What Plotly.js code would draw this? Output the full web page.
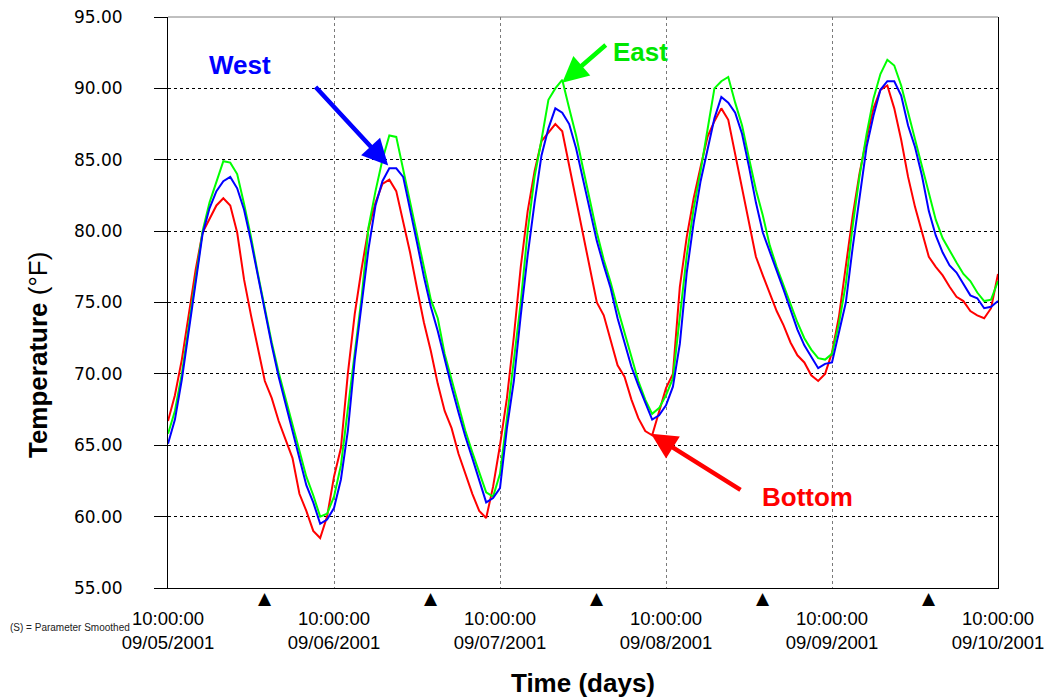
<!DOCTYPE html>
<html>
<head>
<meta charset="utf-8">
<script src="https://cdn.plot.ly/plotly-3.0.1.min.js"></script>
<style>
  html, body { margin: 0; padding: 0; background: #ffffff; }
  #chart { width: 1051px; height: 698px; }
</style>
</head>
<body>
<div id="chart"></div>
<script>
// ---- Data (hourly readings, starting 09/05/2001 10:00:00) ----
const dayTicks = ['2001-09-05 10:00:00', '2001-09-06 10:00:00', '2001-09-07 10:00:00',
                  '2001-09-08 10:00:00', '2001-09-09 10:00:00', '2001-09-10 10:00:00'];
const midnightMarks = ['2001-09-06 00:00:00', '2001-09-07 00:00:00', '2001-09-08 00:00:00',
                       '2001-09-09 00:00:00', '2001-09-10 00:00:00'];

const bottomTemp = [
  66.7, 68.5, 71.0, 74.0, 77.3, 79.9, 80.8, 81.8, 82.3, 81.8, 79.9, 76.6, 74.1, 71.7, 69.5, 68.3, 66.7, 65.4, 64.1, 61.6, 60.4, 59.0, 58.5, 60.0, 62.8,
  64.8, 70.0, 74.2, 77.4, 80.2, 82.0, 83.3, 83.6, 82.8, 80.7, 78.5, 76.0, 73.6, 71.6, 69.3, 67.4, 66.2, 64.4, 63.0, 61.6, 60.4, 59.9, 62.1, 65.0,
  68.3, 72.6, 77.5, 81.4, 84.2, 86.3, 86.9, 87.5, 87.0, 84.6, 82.0, 79.6, 77.3, 75.0, 74.1, 72.4, 70.6, 69.8, 68.2, 66.9, 66.0, 65.7, 67.4, 69.0,
  70.0, 76.1, 79.6, 82.3, 84.5, 86.6, 87.7, 88.6, 87.8, 85.4, 82.9, 80.6, 78.2, 76.9, 75.7, 74.4, 73.4, 72.2, 71.3, 70.8, 69.9, 69.5, 70.0, 71.5,
  74.0, 77.5, 81.1, 84.1, 86.5, 88.6, 89.9, 90.2, 88.6, 86.4, 83.8, 81.7, 79.9, 78.2, 77.5, 76.9, 76.1, 75.4, 75.1, 74.4, 74.1, 73.9, 74.6, 77.0
];
const eastTemp = [
  65.8, 67.4, 70.0, 73.3, 76.8, 80.0, 82.0, 83.5, 84.9, 84.8, 84.0, 81.9, 79.6, 77.0, 74.5, 72.2, 70.1, 68.3, 66.5, 64.6, 62.8, 61.5, 60.0, 60.2, 61.4,
  63.6, 67.6, 71.8, 75.4, 80.3, 82.8, 85.0, 86.7, 86.6, 84.3, 82.0, 79.6, 77.3, 75.2, 73.9, 71.4, 69.6, 67.8, 66.0, 64.5, 63.1, 61.7, 61.4, 63.0,
  66.9, 70.8, 75.0, 80.0, 83.8, 86.4, 89.2, 90.0, 90.6, 88.6, 86.7, 84.4, 82.1, 79.9, 78.0, 76.4, 74.6, 72.9, 71.3, 69.5, 68.2, 67.2, 67.6, 68.5,
  69.7, 74.0, 78.3, 81.6, 84.2, 87.1, 90.0, 90.5, 90.8, 89.0, 87.4, 85.1, 82.9, 81.1, 79.0, 77.5, 76.2, 74.9, 73.6, 72.5, 71.7, 71.1, 71.0, 71.4,
  73.5, 76.3, 80.4, 83.9, 86.8, 89.3, 91.0, 92.0, 91.6, 90.2, 88.3, 86.4, 84.5, 82.7, 80.8, 79.5, 78.6, 77.8, 77.0, 76.5, 75.7, 75.1, 75.2, 76.5
];
const westTemp = [
  65.1, 66.8, 69.6, 73.0, 76.5, 79.8, 81.6, 82.8, 83.5, 83.8, 83.0, 81.5, 79.3, 76.9, 74.3, 72.0, 69.8, 67.9, 66.0, 64.1, 62.2, 61.0, 59.5, 59.8, 60.6,
  62.6, 66.0, 71.0, 74.8, 78.8, 81.8, 83.5, 84.4, 84.4, 83.8, 81.6, 79.2, 76.8, 74.7, 73.0, 71.0, 69.1, 67.3, 65.6, 64.1, 62.5, 61.0, 61.3, 62.0,
  66.2, 69.5, 74.1, 78.3, 82.0, 85.3, 87.2, 88.6, 88.3, 87.5, 85.8, 83.7, 81.5, 79.3, 77.6, 76.0, 73.9, 72.1, 70.5, 69.2, 68.0, 66.8, 67.1, 67.8,
  69.1, 72.1, 77.1, 80.6, 83.5, 85.8, 87.9, 89.4, 89.0, 88.3, 86.8, 84.5, 82.0, 79.9, 78.6, 77.2, 75.9, 74.5, 73.1, 72.0, 71.2, 70.4, 70.7, 70.8,
  72.9, 75.0, 78.9, 82.5, 85.9, 88.1, 89.9, 90.5, 90.5, 89.5, 87.4, 85.9, 83.9, 81.4, 79.7, 78.5, 77.6, 77.1, 76.3, 75.5, 75.3, 74.6, 74.7, 75.1
];
const yTicks = [55, 60, 65, 70, 75, 80, 85, 90, 95];
const yRange = [55, 95];

// ---- Time axis built from the hourly sampling grid ----
function fmt(d) {
  return d.toISOString().slice(0, 19).replace('T', ' ');
}
const t0 = Date.UTC(2001, 8, 5, 10, 0, 0);
const times = bottomTemp.map((_, i) => fmt(new Date(t0 + i * 3600 * 1000)));

const lineStyle = (c) => ({ color: c, width: 2 });

const traces = [
  { x: times, y: bottomTemp, type: 'scatter', mode: 'lines', name: 'Bottom', line: lineStyle('#ff0000'), hoverinfo: 'skip' },
  { x: times, y: eastTemp, type: 'scatter', mode: 'lines', name: 'East', line: lineStyle('#00ff00'), hoverinfo: 'skip' },
  { x: times, y: westTemp, type: 'scatter', mode: 'lines', name: 'West', line: lineStyle('#0000ff'), hoverinfo: 'skip' }
];

const sans = 'Liberation Sans, Arial, sans-serif';

const markAnnotations = midnightMarks.map(t => ({
  x: t, xref: 'x', yref: 'paper', y: 0, yshift: -10, text: '▲', showarrow: false,
  font: { family: 'DejaVu Sans, sans-serif', size: 17, color: '#000000' }, xanchor: 'center', yanchor: 'middle'
}));

const layout = {
  width: 1051,
  height: 698,
  margin: { l: 168, r: 53, t: 17, b: 110, pad: 0 },
  paper_bgcolor: '#ffffff',
  plot_bgcolor: '#ffffff',
  showlegend: false,
  xaxis: {
    type: 'date',
    range: [dayTicks[0], dayTicks[dayTicks.length - 1]],
    tickmode: 'array',
    tickvals: dayTicks,
    tickformat: '%H:%M:%S<br>%m/%d/%Y',
    ticks: '',
    ticklabelstandoff: 14,
    tickfont: { family: sans, size: 18.5, color: '#000000' },
    showgrid: true,
    gridcolor: '#7a7a7a',
    griddash: 'dot',
    gridwidth: 1,
    showline: true,
    linecolor: '#000000',
    linewidth: 1,
    zeroline: false,
    automargin: false,
    title: { text: '<b>Time (days)</b>', font: { family: sans, size: 26, color: '#000000' }, standoff: 24 }
  },
  yaxis: {
    range: yRange,
    tickmode: 'array',
    tickvals: yTicks,
    tickformat: '.2f',
    ticks: 'outside',
    ticklen: 13,
    tickcolor: '#000000',
    tickwidth: 1,
    ticklabelstandoff: 28,
    tickfont: { family: 'DejaVu Sans, sans-serif', size: 17, color: '#000000' },
    showgrid: true,
    gridcolor: '#000000',
    griddash: '3px,3px',
    gridwidth: 1,
    showline: true,
    linecolor: '#000000',
    linewidth: 1,
    mirror: true,
    zeroline: false,
    automargin: false
  },
  shapes: [
    { type: 'line', xref: 'paper', yref: 'paper', x0: 0, x1: 1, y0: 1, y1: 1, line: { color: '#808080', width: 1 }, layer: 'between' },
    { type: 'rect', xref: 'paper', yref: 'paper', x0: 0.0217, x1: 0.1783, y0: 0.8687, y1: 0.9597, fillcolor: '#ffffff', line: { width: 0 }, layer: 'between' },
    { type: 'rect', xref: 'paper', yref: 'paper', x0: 0.509, x1: 0.629, y0: 0.884, y1: 0.995, fillcolor: '#ffffff', line: { width: 0 }, layer: 'between' },
    { type: 'rect', xref: 'paper', yref: 'paper', x0: 0.6928, x1: 0.8663, y0: 0.1068, y1: 0.2067, fillcolor: '#ffffff', line: { width: 0 }, layer: 'between' }
  ],
  annotations: [
    { xref: 'paper', yref: 'paper', x: 0.0867, y: 0.916, text: '<b>West</b>', showarrow: false,
      font: { family: sans, size: 26, color: '#0000ff' }, xanchor: 'center', yanchor: 'middle' },
    { xref: 'paper', yref: 'paper', x: 0.5687, y: 0.9387, text: '<b>East</b>', showarrow: false,
      font: { family: sans, size: 26, color: '#00e600' }, xanchor: 'center', yanchor: 'middle' },
    { xref: 'paper', yref: 'paper', x: 0.771, y: 0.1594, text: '<b>Bottom</b>', showarrow: false,
      font: { family: sans, size: 26, color: '#ff0000' }, xanchor: 'center', yanchor: 'middle' },
    { x: '2001-09-06 17:50', y: 84.6, xref: 'x', yref: 'y', text: '', showarrow: true, ax: -74, ay: -80,
      arrowcolor: '#0000ff', arrowwidth: 4.5, arrowhead: 2, arrowsize: 1.15 },
    { x: '2001-09-07 19:00', y: 90.4, xref: 'x', yref: 'y', text: '', showarrow: true, ax: 45, ay: -39,
      arrowcolor: '#00ff00', arrowwidth: 4.5, arrowhead: 2, arrowsize: 1.15 },
    { x: '2001-09-08 07:50', y: 65.8, xref: 'x', yref: 'y', text: '', showarrow: true, ax: 91, ay: 57,
      arrowcolor: '#ff0000', arrowwidth: 4.5, arrowhead: 2, arrowsize: 1.15 },
    { xref: 'paper', yref: 'paper', x: -0.1566, y: 0.408, text: '<b>Temperature</b> (°F)', textangle: -90,
      showarrow: false, font: { family: sans, size: 26, color: '#000000' }, xanchor: 'center', yanchor: 'middle' },
    { xref: 'paper', yref: 'paper', x: -0.193, y: -0.07, text: '(S) = Parameter Smoothed', showarrow: false,
      font: { family: sans, size: 10, color: '#222222' }, xanchor: 'left', yanchor: 'middle' }
  ].concat(markAnnotations)
};

Plotly.newPlot('chart', traces, layout, { displayModeBar: false, staticPlot: true });
</script>
</body>
</html>
